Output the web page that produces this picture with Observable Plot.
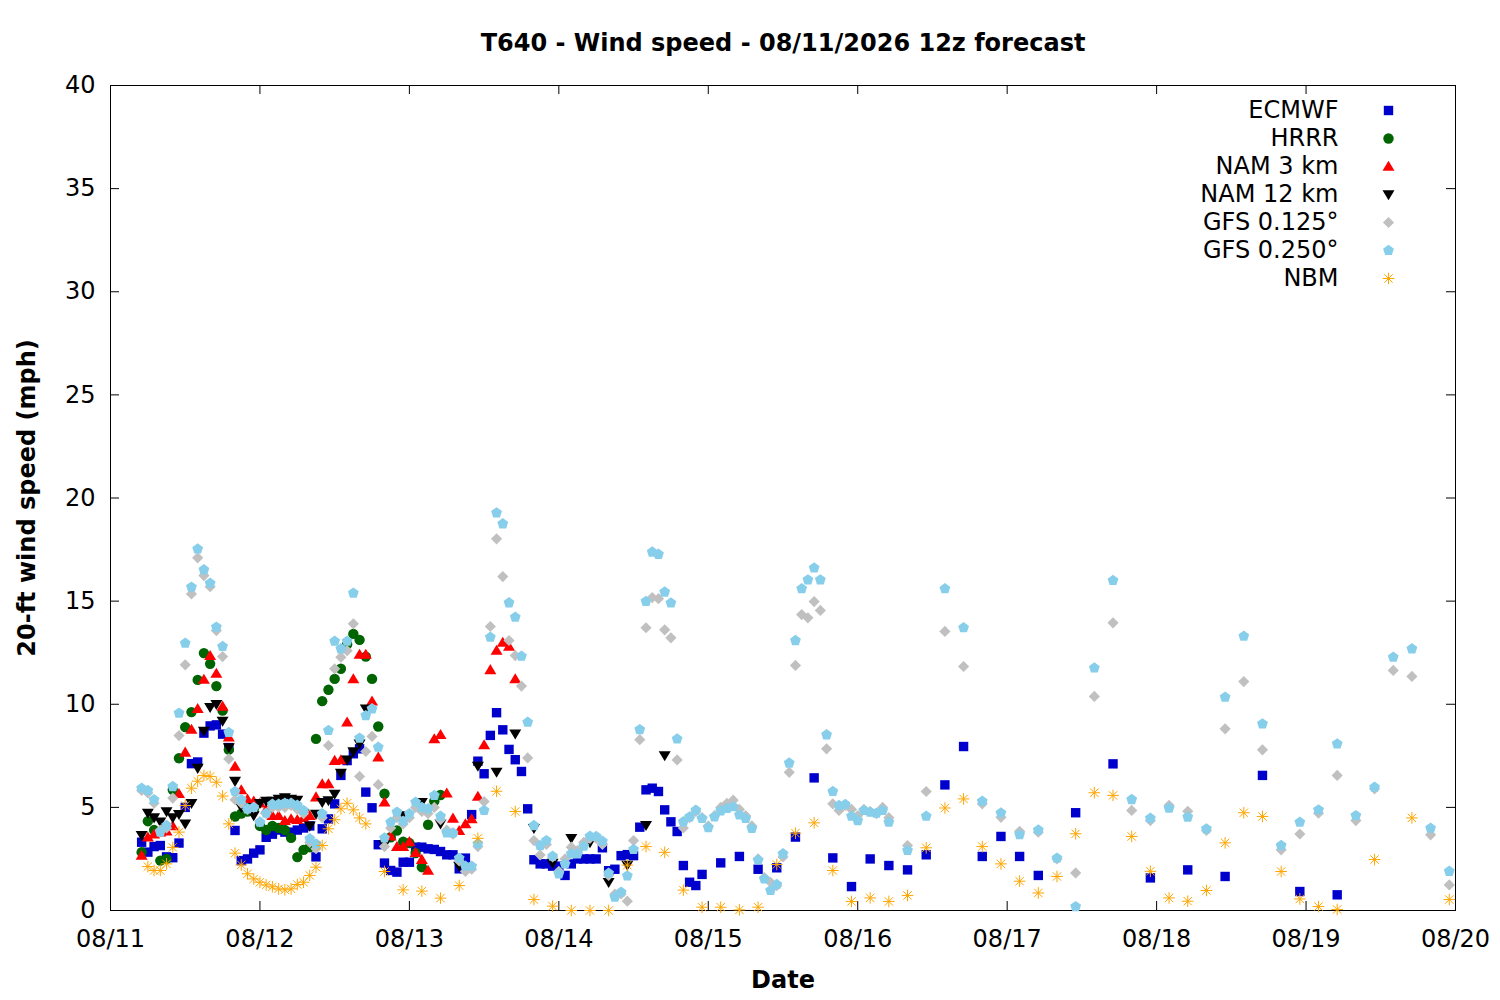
<!DOCTYPE html>
<html><head><meta charset="utf-8">
<script src="https://cdn.jsdelivr.net/npm/d3@7"></script>
<script src="https://cdn.jsdelivr.net/npm/@observablehq/plot@0.6"></script>
<style>body{margin:0;background:#fff}#chart{width:1500px;height:1000px}</style>
</head><body><div id="chart"></div>
<script>
// ---------- labels ----------
const titleText = "T640 - Wind speed - 08/11/2026 12z forecast";
const xLabel = "Date";
const yLabel = "20-ft wind speed (mph)";
const seriesNames = ["ECMWF","HRRR","NAM 3 km","NAM 12 km","GFS 0.125°","GFS 0.250°","NBM"];
const dayTickLabels = ["08/11","08/12","08/13","08/14","08/15","08/16","08/17","08/18","08/19","08/20"];
const yTicks = [0,5,10,15,20,25,30,35,40];

// ---------- forecast hours (local hours after 08/11 00:00) ----------
const hrs = (a,b,s=1) => d3.range(a,b+1,s);
const ecmwfHours = [...hrs(5,95), ...hrs(98,149,3), ...hrs(155,197,6)];
const hrrrHours = hrs(5,53);
const nam3Hours = hrs(5,65);
const nam12Hours = [...hrs(5,41), ...hrs(44,89,3)];
const gfsHours = [...hrs(5,125), ...hrs(128,215,3)];
const nbmHours = [...hrs(6,41), ...hrs(44,197,3), 203, 209, 215];

// ---------- values (mph) ----------
const ecmwf = [
 3.31,2.83,3.1,3.15,2.6,2.56,3.27,5.0,7.12,7.2,
 8.6,8.95,9.0,8.55,7.9,3.88,2.42,2.5,2.78,2.94,
 3.55,3.7,3.9,3.8,3.8,3.9,4.0,4.1,2.6,3.96,
 4.44,5.17,6.55,7.27,7.6,7.84,5.74,4.98,3.19,2.3,
 1.94,1.86,2.34,2.34,3.07,3.07,2.99,2.96,2.86,2.70,
 2.70,2.02,2.54,4.65,7.24,6.63,8.49,9.59,8.76,7.81,
 7.31,6.74,4.93,2.46,2.26,2.26,2.15,2.15,1.70,2.26,
 2.5,2.5,2.5,2.5,3.04,1.93,2.0,2.66,2.71,2.66,
 4.04,5.85,5.93,5.77,4.88,4.3,3.83,2.18,1.37,1.21,1.75,
 2.31,2.62,2.0,2.07,3.56,6.43,2.55,1.16,2.5,2.18,1.97,2.70,6.09,7.95,2.62,3.59,2.62,1.70,
 4.74,7.11,1.58,1.97,1.65,6.55,0.92,0.76];
const hrrr = [
 2.83,4.33,3.9,2.42,2.5,5.85,7.38,8.89,9.62,11.18,
 12.48,11.96,10.88,9.69,7.80,4.56,4.7,4.8,4.9,4.1,
 3.9,4.1,4.0,3.9,3.52,2.59,2.94,3.07,8.32,10.15,
 10.7,11.23,11.72,12.9,13.41,13.12,12.31,11.23,8.92,5.66,
 3.55,3.88,3.33,3.27,2.79,2.1,4.16,5.3,5.6];
const nam3 = [
 2.67,3.56,3.7,3.8,3.85,4.1,5.66,7.67,8.78,9.78,
 11.2,12.36,11.49,9.9,8.4,6.98,5.85,5.4,5.3,5.2,
 4.9,4.6,4.6,4.36,4.44,4.4,4.5,4.6,5.5,6.14,
 6.14,7.27,7.3,9.13,11.23,12.41,12.41,10.15,7.43,5.25,
 3.6,3.09,3.09,3.33,2.8,2.47,1.94,8.32,8.52,5.69,
 4.47,3.87,4.2,4.44,5.53,8.03,11.67,12.61,13.0,12.8,11.23];
const nam12 = [
 3.64,4.72,4.5,4.3,4.8,4.5,4.66,4.2,5.2,6.9,
 8.7,9.85,10.0,9.18,7.9,6.27,5.0,5.0,4.6,5.2,
 5.3,5.3,5.4,5.48,5.4,5.35,4.7,4.1,4.68,5.25,
 5.33,5.65,6.66,7.3,7.7,8.08,9.78,
 3.2,4.6,5.25,4.2,2.15,7.0,6.71,8.57,3.99,2.3,3.5,3.3,1.37,2.2,4.13,7.51];
const gfs0125 = [
 5.82,5.7,5.2,3.9,4.0,5.45,8.48,11.91,15.35,17.10,
 16.24,15.7,13.57,12.31,7.35,5.37,5.2,4.9,5.0,4.3,
 4.7,5.0,5.0,5.0,5.1,4.9,4.7,3.3,3.0,4.5,
 8.0,11.72,12.28,12.6,13.9,6.5,7.71,8.44,6.1,3.1,
 4.0,4.5,4.2,4.5,5.0,4.8,4.7,5.0,4.4,3.9,
 3.7,2.4,1.89,2.0,3.1,5.28,13.77,18.02,16.19,13.09,
 12.36,10.88,7.4,3.39,2.69,3.2,2.6,1.9,2.5,3.07,
 2.9,3.3,3.5,3.5,3.2,1.7,0.8,0.8,0.45,3.39,
 8.28,13.71,15.17,15.12,13.61,13.22,7.3,4.0,4.5,4.8,
 4.5,4.1,4.6,5.0,5.2,5.35,4.9,4.6,4.1,2.5,
 1.6,1.37,1.2,2.6,6.7,11.88,14.35,14.19,14.98,14.55,
 7.84,5.17,4.85,5.1,4.9,4.6,4.9,4.8,4.7,5.0,4.5,
 3.15,5.77,13.53,11.83,5.17,4.52,3.84,3.8,2.5,1.82,
 10.38,13.95,4.85,4.36,5.1,4.81,3.88,8.81,11.1,7.79,
 2.94,3.71,4.72,6.55,4.36,5.9,11.64,11.35,3.67,1.24];
const gfs0250 = [
 5.93,5.82,5.37,3.80,4.12,6.01,9.57,12.96,15.68,17.53,
 16.52,15.87,13.74,12.80,8.63,5.77,5.37,4.93,5.0,4.28,
 4.72,5.15,5.15,5.2,5.2,5.1,4.85,3.48,3.23,4.69,
 8.73,13.06,12.69,13.06,15.39,8.36,9.45,9.78,7.92,3.52,
 4.28,4.77,4.33,4.69,5.25,5.0,4.93,5.58,4.57,3.76,
 3.76,2.53,2.15,2.15,3.23,4.85,13.25,19.28,18.75,14.92,
 14.22,12.33,9.13,4.12,3.15,3.39,2.63,1.78,2.26,2.75,
 2.75,3.12,3.6,3.59,3.36,1.81,0.65,0.89,1.68,2.96,
 8.77,14.99,17.38,17.27,15.44,14.91,8.32,4.3,4.54,4.86,
 4.46,4.02,4.54,4.83,4.95,5.03,4.63,4.46,3.98,2.45,
 1.53,0.97,1.26,2.75,7.15,13.09,15.6,16.03,16.61,16.03,
 8.52,5.77,5.09,5.14,4.57,4.36,4.85,4.77,4.72,4.85,4.28,
 2.91,4.57,15.6,13.71,5.3,4.73,3.68,3.9,2.54,0.19,
 11.76,16.0,5.38,4.47,4.96,4.53,3.96,10.34,13.3,9.05,
 3.15,4.28,4.88,8.08,4.6,5.98,12.28,12.69,3.99,1.9];
const nbm = [
 2.13,1.94,1.94,2.26,3.06,3.80,5.09,5.93,6.27,6.55,
 6.5,6.22,5.55,4.2,2.78,2.21,1.78,1.53,1.37,1.24,
 1.15,1.05,1.0,1.05,1.26,1.37,1.70,2.10,3.15,3.96,
 4.4,4.93,5.2,4.88,4.49,4.2,
 1.89,1.0,0.94,0.6,1.21,3.5,5.78,4.8,0.53,0.21,
 0.0,0.0,0.0,2.2,3.1,2.82,0.99,0.16,0.16,0.03,
 0.16,2.23,3.75,4.25,1.94,0.44,0.61,0.44,0.73,3.04,
 4.97,5.41,3.1,2.26,1.42,0.85,1.65,3.72,5.71,5.58,
 3.59,1.9,0.61,0.45,0.97,3.28,4.74,4.56,1.89,0.56,
 0.19,0.05,
 2.47,4.49,0.53];

// ---------- symbols (gnuplot-like) ----------
const rad = s => Math.sqrt(s/Math.PI);
const symSquare = {draw(c,s){const r=rad(s); c.moveTo(-r,-r); c.lineTo(r,-r); c.lineTo(r,r); c.lineTo(-r,r); c.closePath();}};
const symCircle = {draw(c,s){const r=rad(s); c.moveTo(r,0); c.arc(0,0,r,0,2*Math.PI); c.closePath();}};
const symTriUp = {draw(c,s){const r=rad(s); c.moveTo(0,-0.95*r); c.lineTo(r,0.72*r); c.lineTo(-r,0.72*r); c.closePath();}};
const symTriDown = {draw(c,s){const r=rad(s); c.moveTo(0,0.95*r); c.lineTo(r,-0.72*r); c.lineTo(-r,-0.72*r); c.closePath();}};
const symDiamond = {draw(c,s){const r=rad(s); c.moveTo(0,-r); c.lineTo(r,0); c.lineTo(0,r); c.lineTo(-r,0); c.closePath();}};
const symPentagon = {draw(c,s){const r=rad(s); for(let k=0;k<5;k++){const a=-Math.PI/2+k*2*Math.PI/5; const x=r*Math.cos(a), y=r*Math.sin(a); k?c.lineTo(x,y):c.moveTo(x,y);} c.closePath();}};
const symAsterisk = {draw(c,s){const r=rad(s), q=r*0.72; c.moveTo(-r,0); c.lineTo(r,0); c.moveTo(0,-r); c.lineTo(0,r); c.moveTo(-q,-q); c.lineTo(q,q); c.moveTo(-q,q); c.lineTo(q,-q);}};

const base = Date.UTC(2026,7,11,0);
const toDate = h => new Date(base + h*3600e3);
const dayTicks = dayTickLabels.map((_,i) => new Date(Date.UTC(2026,7,11+i)));

const series = [
 {name: seriesNames[0], hours: ecmwfHours, values: ecmwf, symbol: symSquare, r: 4.7, fill: "#0000cc", stroke: "none"},
 {name: seriesNames[1], hours: hrrrHours, values: hrrr, symbol: symCircle, r: 5.2, fill: "#006400", stroke: "none"},
 {name: seriesNames[2], hours: nam3Hours, values: nam3, symbol: symTriUp, r: 6.0, fill: "#ff0000", stroke: "none"},
 {name: seriesNames[3], hours: nam12Hours, values: nam12, symbol: symTriDown, r: 6.0, fill: "#000000", stroke: "none"},
 {name: seriesNames[4], hours: gfsHours, values: gfs0125, symbol: symDiamond, r: 5.6, fill: "#c0c0c0", stroke: "none"},
 {name: seriesNames[5], hours: gfsHours, values: gfs0250, symbol: symPentagon, r: 5.7, fill: "#87ceeb", stroke: "none"},
 {name: seriesNames[6], hours: nbmHours, values: nbm, symbol: symAsterisk, r: 5.8, fill: "none", stroke: "#ffa500"}
];

const marks = [
  Plot.frame({stroke: "black", strokeWidth: 1}),
  Plot.ruleY(yTicks, {y: d => d, insetRight: 1336, stroke: "black"}),
  Plot.ruleY(yTicks, {y: d => d, insetLeft: 1336, stroke: "black"}),
  Plot.ruleX(dayTicks, {x: d => d, insetTop: 816, stroke: "black"}),
  Plot.ruleX(dayTicks, {x: d => d, insetBottom: 816, stroke: "black"}),
  Plot.axisY({ticks: yTicks, tickSize: 0, tickPadding: 15, label: null, fontSize: 24}),
  Plot.axisX({ticks: dayTicks, tickSize: 0, tickPadding: 19, label: null, fontSize: 24,
              tickFormat: d => dayTickLabels[Math.round((d - dayTicks[0]) / 864e5)]})
];

series.forEach(s => {
  const rows = s.hours.map((h,i) => ({t: toDate(h), v: s.values[i]}));
  marks.push(Plot.dot(rows, {x: "t", y: "v", symbol: s.symbol, r: s.r, fill: s.fill, stroke: s.stroke, strokeWidth: 1}));
});

series.forEach((s,i) => {
  marks.push(Plot.text([s.name], {text: d => d, frameAnchor: "top-right", dx: -117, dy: 25 + 28*i,
    textAnchor: "end", lineAnchor: "middle", fontSize: 24, fill: "black"}));
  marks.push(Plot.dot([s.name], {frameAnchor: "top-right", dx: -67, dy: 25 + 28*i,
    symbol: s.symbol, r: s.r, fill: s.fill, stroke: s.stroke, strokeWidth: 1}));
});

marks.push(Plot.text([titleText], {text: d => d, frameAnchor: "top", dy: -42, lineAnchor: "middle", textAnchor: "middle", fontSize: 24, fontWeight: "bold", fill: "black"}));
marks.push(Plot.text([xLabel], {text: d => d, frameAnchor: "bottom", dy: 70, lineAnchor: "middle", textAnchor: "middle", fontSize: 24, fontWeight: "bold", fill: "black"}));
marks.push(Plot.text([yLabel], {text: d => d, frameAnchor: "left", dx: -83, rotate: -90, lineAnchor: "middle", textAnchor: "middle", fontSize: 24, fontWeight: "bold", fill: "black"}));

const chart = Plot.plot({
  width: 1500, height: 1000,
  marginLeft: 110, marginRight: 45, marginTop: 85, marginBottom: 90,
  style: {fontFamily: "DejaVu Sans", fontSize: "24px", color: "black", background: "white", overflow: "visible"},
  x: {type: "utc", domain: [dayTicks[0], dayTicks[dayTicks.length-1]]},
  y: {domain: [0, 40]},
  marks
});
document.getElementById("chart").appendChild(chart);
</script>
</body></html>
